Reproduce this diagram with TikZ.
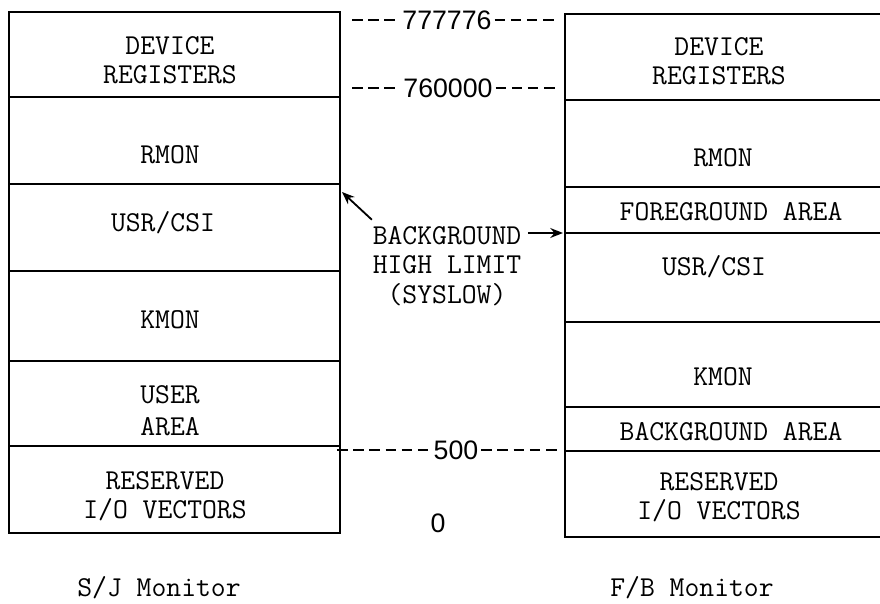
\documentclass[tikz,border=0pt]{standalone}
\usepackage{fontspec}
\newfontfamily\numfont{Liberation Sans}
\usetikzlibrary{arrows.meta}

\begin{document}
\begin{tikzpicture}[x=0.025cm, y=-0.025cm, >={Stealth[length=9pt,width=7pt]},
  font=\ttfamily\fontsize{20.5}{21}\selectfont, line width=1.3pt,
  seg/.style={align=center, inner sep=0pt},
  addr/.style={font=\fontsize{19}{19}\selectfont\numfont, inner sep=1.5pt},
  lvl/.style={dash pattern=on 7.5pt off 4pt, line width=1.4pt}]

  \useasboundingbox (0,0) rectangle (880,604);

  % S/J monitor map
  \draw (9,12) rectangle (340,533);
  \foreach \y in {97,184,271,361,446}
    \draw (9,\y) -- (340,\y);
  \node[seg] (sjdev)  at (170,60)  {DEVICE\\REGISTERS};
  \node[seg] (sjrmon) at (170,155) {RMON};
  \node[seg] (sjusr)  at (163,223) {USR/CSI};
  \node[seg] (sjkmon) at (170,320) {KMON};
  \node[seg] (sjuser) at (170,411) {USER\\[2pt]AREA};
  \node[seg] (sjvec)  at (165,496) {RESERVED\\I/O VECTORS};
  \node (sjname) at (159,588) {S/J Monitor};

  % F/B monitor map
  \draw (880,14) -- (565,14) -- (565,537) -- (880,537);
  \foreach \y in {100,187,233,322,407,451}
    \draw (565,\y) -- (880,\y);
  \node[seg] (fbdev)  at (719,61)  {DEVICE\\REGISTERS};
  \node[seg] (fbrmon) at (723,158) {RMON};
  \node[seg] (fbfg)   at (731,212) {FOREGROUND AREA};
  \node[seg] (fbusr)  at (714,267) {USR/CSI};
  \node[seg] (fbkmon) at (723,377) {KMON};
  \node[seg] (fbbg)   at (731,432) {BACKGROUND AREA};
  \node[seg] (fbvec)  at (719,497) {RESERVED\\I/O VECTORS};
  \node (fbname) at (692,588) {F/B Monitor};

  % addresses
  \node[addr] (a777) at (447,20)  {777776};
  \node[addr] (a760) at (448,88)  {760000};
  \node[addr] (a500) at (456,450) {500};
  \node[addr] (a0)   at (438,523) {0};
  \coordinate (a777l) at (352,20);  \coordinate (a777r) at (558,20);
  \coordinate (a760l) at (352,88);  \coordinate (a760r) at (558,88);
  \coordinate (a500l) at (337,450); \coordinate (a500r) at (562,450);
  \draw[lvl] (a777l) -- (a777);  \draw[lvl] (a777) -- (a777r);
  \draw[lvl] (a760l) -- (a760);  \draw[lvl] (a760) -- (a760r);
  \draw[lvl] (a500l) -- (a500);  \draw[lvl] (a500) -- (a500r);

  % syslow
  \node[align=center, inner sep=4pt] (bhl) at (447,266) {BACKGROUND\\HIGH LIMIT\\(SYSLOW)};
  \coordinate (sjlim) at (342,192);
  \coordinate (fblim) at (563,233);
  \draw[->] ([xshift=4pt]bhl.north west) -- (sjlim);
  \draw[->] (bhl.east |- fblim) -- (fblim);

\end{tikzpicture}
\end{document}
